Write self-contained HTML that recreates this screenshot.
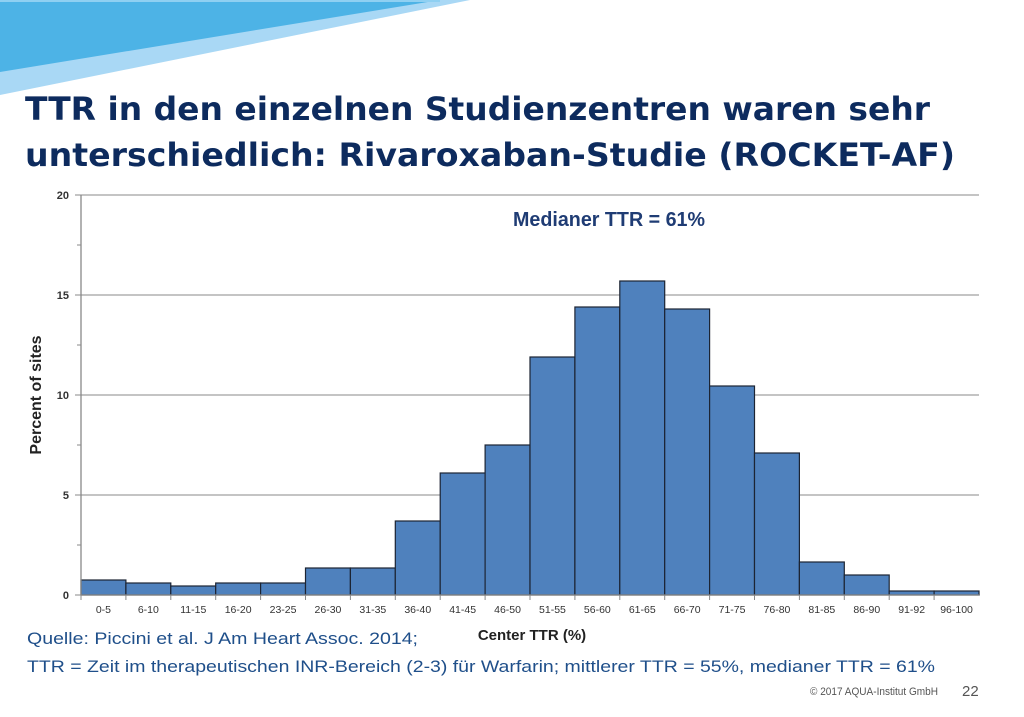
<!DOCTYPE html>
<html><head><meta charset="utf-8"><style>
html,body{margin:0;padding:0;background:#fff;width:1024px;height:717px;overflow:hidden}
svg{display:block}
</style></head><body>
<svg id="chart" width="1024" height="717" viewBox="0 0 1024 717" xmlns="http://www.w3.org/2000/svg">
  <polygon points="0,0 470,0 0,95" fill="#a9d8f5"/>
  <polygon points="0,0 440,0 0,72" fill="#4db3e6"/>
  <rect x="0" y="0" width="440" height="2" fill="#8fd0f2"/>
  <text x="25" y="120" font-family="'DejaVu Sans',sans-serif" font-weight="bold" font-size="32" fill="#0d2b5e" textLength="905" lengthAdjust="spacingAndGlyphs">TTR in den einzelnen Studienzentren waren sehr</text>
  <text x="25" y="166" font-family="'DejaVu Sans',sans-serif" font-weight="bold" font-size="32" fill="#0d2b5e" textLength="930" lengthAdjust="spacingAndGlyphs">unterschiedlich: Rivaroxaban-Studie (ROCKET-AF)</text>
  <g id="grid"></g>
  <g id="bars"></g>
  <g id="axes"></g>
  <text x="513" y="226" font-family="'Liberation Sans',sans-serif" font-weight="bold" font-size="20" fill="#1f3c74" textLength="192" lengthAdjust="spacingAndGlyphs">Medianer TTR = 61%</text>
  <text transform="translate(41,395) rotate(-90)" text-anchor="middle" font-family="'Liberation Sans',sans-serif" font-weight="bold" font-size="16" fill="#222">Percent of sites</text>
  <text x="532" y="640" text-anchor="middle" font-family="'Liberation Sans',sans-serif" font-weight="bold" font-size="15" fill="#222">Center TTR (%)</text>
  <text x="27" y="644" font-family="'Liberation Sans',sans-serif" font-size="17" fill="#1f4f8a" textLength="391" lengthAdjust="spacingAndGlyphs">Quelle: Piccini et al. J Am Heart Assoc. 2014;</text>
  <text x="27" y="672" font-family="'Liberation Sans',sans-serif" font-size="17" fill="#1f4f8a" textLength="908" lengthAdjust="spacingAndGlyphs">TTR = Zeit im therapeutischen  INR-Bereich (2-3) für Warfarin; mittlerer TTR = 55%, medianer TTR = 61%</text>
  <text x="810" y="695" font-family="'Liberation Sans',sans-serif" font-size="11" fill="#555" textLength="128" lengthAdjust="spacingAndGlyphs">© 2017 AQUA-Institut GmbH</text>
  <text x="962" y="696" font-family="'Liberation Sans',sans-serif" font-size="15" fill="#555">22</text>
</svg>
<script>
const categories = ["0-5","6-10","11-15","16-20","23-25","26-30","31-35","36-40","41-45","46-50","51-55","56-60","61-65","66-70","71-75","76-80","81-85","86-90","91-92","96-100"];
const percentSites = [0.75,0.6,0.45,0.6,0.6,1.35,1.35,3.7,6.1,7.5,11.9,14.4,15.7,14.3,10.45,7.1,1.65,1.0,0.2,0.2];
const yTicks = [0,5,10,15,20];
const yMinorTicks = [2.5,7.5,12.5,17.5];

const NS="http://www.w3.org/2000/svg";
const X0=81, X1=979, Y0=595, Y1=195, YMAX=20;
const bw=(X1-X0)/categories.length;
const xPos=i=>X0+i*bw;
const yPos=v=>Y0-(v/YMAX)*(Y0-Y1);
function mk(tag,attrs,parent){const e=document.createElementNS(NS,tag);for(const k in attrs)e.setAttribute(k,attrs[k]);parent.appendChild(e);return e;}
const grid=document.getElementById('grid'),bars=document.getElementById('bars'),axes=document.getElementById('axes');
yTicks.forEach(t=>{
  if(t>0){const g=mk('line',{x1:X0,x2:X1,y1:yPos(t),y2:yPos(t),stroke:'#a0a0a0','stroke-width':1.3},grid);
  
  }
  const tk=mk('line',{x1:X0-6,x2:X0,y1:yPos(t),y2:yPos(t),stroke:'#888'},axes);
  
  
  const lb=mk('text',{x:X0-12,y:yPos(t)+4,'text-anchor':'end','font-family':"'Liberation Sans',sans-serif",'font-size':11,'font-weight':'bold',fill:'#333'},axes);
  lb.textContent=t;
  
  
});
yMinorTicks.forEach(t=>{
  const tk=mk('line',{x1:X0-4,x2:X0,y1:yPos(t),y2:yPos(t),stroke:'#888'},axes);
  
  
});
categories.forEach((c,i)=>{
  const r=mk('rect',{x:xPos(i),y:yPos(percentSites[i]),width:bw,height:Y0-yPos(percentSites[i]),fill:'#4f81bd',stroke:'#1c2433','stroke-width':1.2},bars);
  
  
  const tk=mk('line',{x1:xPos(i),x2:xPos(i),y1:Y0,y2:Y0+5,stroke:'#888'},axes);
  
  
  const lb=mk('text',{x:xPos(i)+bw/2,y:Y0+18,'text-anchor':'middle','font-family':"'Liberation Sans',sans-serif",'font-size':10.5,fill:'#333'},axes);
  lb.textContent=c;
  
  
});
const ya=mk('line',{x1:X0,x2:X0,y1:Y1,y2:Y0,stroke:'#888','stroke-width':1.3},axes);


const xa=mk('line',{x1:X0,x2:X1,y1:Y0,y2:Y0,stroke:'#888','stroke-width':1.3},axes);


</script>
</body></html>
